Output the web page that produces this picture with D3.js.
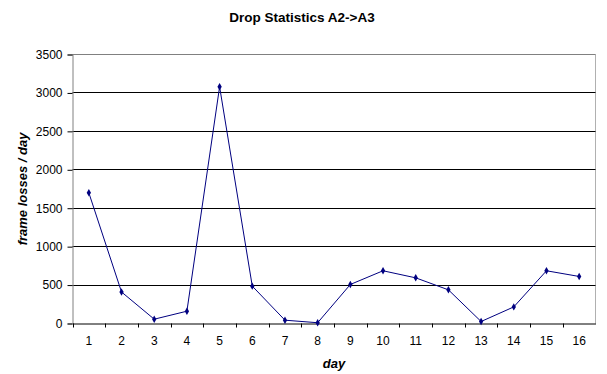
<!DOCTYPE html>
<html>
<head>
<meta charset="utf-8">
<script src="https://cdn.jsdelivr.net/npm/d3@7"></script>
<style>
  body { margin: 0; background: #fff; }
  svg { display: block; font-family: "Liberation Sans", Arial, sans-serif; }
</style>
</head>
<body>
<div id="chart"></div>
<script>
var days = ["1", "2", "3", "4", "5", "6", "7", "8", "9", "10", "11", "12", "13", "14", "15", "16"];
var losses = [1700, 410, 56, 160, 3080, 486, 43, 10, 508, 686, 594, 438, 26, 216, 686, 612];
var yTicks = [0, 500, 1000, 1500, 2000, 2500, 3000, 3500];

function init() {
    var w = 607;
    var h = 374;
    var left = 72.5, right = 595.5, top = 54.5, bottom = 323.5;

    var svg = d3.select("#chart")
                .append("svg")
                .attr("width", w)
                .attr("height", h);

    var x = d3.scaleBand()
              .domain(days)
              .range([left, right]);

    var y = d3.scaleLinear()
              .domain([0, 3500])
              .range([bottom, top]);

    // plot area border (top + right)
    svg.append("path")
       .attr("d", "M" + left + "," + top + "H" + right + "V" + bottom)
       .attr("fill", "none")
       .attr("stroke", "#b0b0b0");

    // horizontal gridlines
    svg.append("g")
       .selectAll("line")
       .data(yTicks.slice(1, -1))
       .enter()
       .append("line")
       .attr("x1", left)
       .attr("x2", right)
       .attr("y1", function(d) { return Math.round(y(d) - 0.5) + 0.5; })
       .attr("y2", function(d) { return Math.round(y(d) - 0.5) + 0.5; })
       .attr("stroke", "#000");

    svg.append("line")
       .attr("x1", left).attr("x2", right)
       .attr("y1", top).attr("y2", top)
       .attr("stroke", "#808080");

    // y axis
    var yAxis = svg.append("g")
       .attr("transform", "translate(" + left + ",0)")
       .call(d3.axisLeft(y).tickValues(yTicks).tickSize(5).tickPadding(5).tickFormat(d3.format("d")));
    yAxis.select(".domain").attr("stroke", "#808080");
    yAxis.selectAll(".tick line").attr("stroke", "#000");
    yAxis.selectAll("text")
         .attr("font-size", "12px")
         .attr("font-family", "Liberation Sans, Arial, sans-serif")
         .attr("fill", "#000");

    // x axis, ticks between categories
    var xAxis = svg.append("g")
       .attr("transform", "translate(0," + bottom + ")")
       .call(d3.axisBottom(x).tickSize(0).tickPadding(13));
    xAxis.select(".domain").attr("stroke", "#000");
    xAxis.selectAll("text")
         .attr("font-size", "12px")
         .attr("font-family", "Liberation Sans, Arial, sans-serif")
         .attr("fill", "#000");
    xAxis.selectAll("line.sep")
         .data(days)
         .enter()
         .append("line")
         .attr("class", "sep")
         .attr("x1", function(d) { return Math.round(x(d)) + 0.5; })
         .attr("x2", function(d) { return Math.round(x(d)) + 0.5; })
         .attr("y1", 0)
         .attr("y2", 4)
         .attr("stroke", "#000");

    // series line
    var line = d3.line()
                 .x(function(d, i) { return x(days[i]) + x.bandwidth() / 2; })
                 .y(function(d) { return y(d); });

    svg.append("path")
       .datum(losses)
       .attr("d", line)
       .attr("fill", "none")
       .attr("stroke", "#000080")
       .attr("stroke-width", 1);

    var diamond = d3.symbol().type(d3.symbolDiamond).size(16);
    svg.append("g")
       .selectAll("path")
       .data(losses)
       .enter()
       .append("path")
       .attr("d", diamond)
       .attr("transform", function(d, i) {
           return "translate(" + (x(days[i]) + x.bandwidth() / 2) + "," + y(d) + ")";
       })
       .attr("fill", "#000080");

    // titles
    svg.append("text")
       .attr("x", 302)
       .attr("y", 22)
       .attr("text-anchor", "middle")
       .attr("font-size", "13.5px")
       .attr("font-weight", "bold")
       .text("Drop Statistics A2->A3");

    svg.append("text")
       .attr("x", (left + right) / 2)
       .attr("y", 368)
       .attr("text-anchor", "middle")
       .attr("font-size", "13px")
       .attr("font-weight", "bold")
       .attr("font-style", "italic")
       .text("day");

    svg.append("text")
       .attr("transform", "translate(27,189) rotate(-90)")
       .attr("text-anchor", "middle")
       .attr("font-size", "13px")
       .attr("font-weight", "bold")
       .attr("font-style", "italic")
       .text("frame losses / day");
}
window.onload = init;
</script>
</body>
</html>
